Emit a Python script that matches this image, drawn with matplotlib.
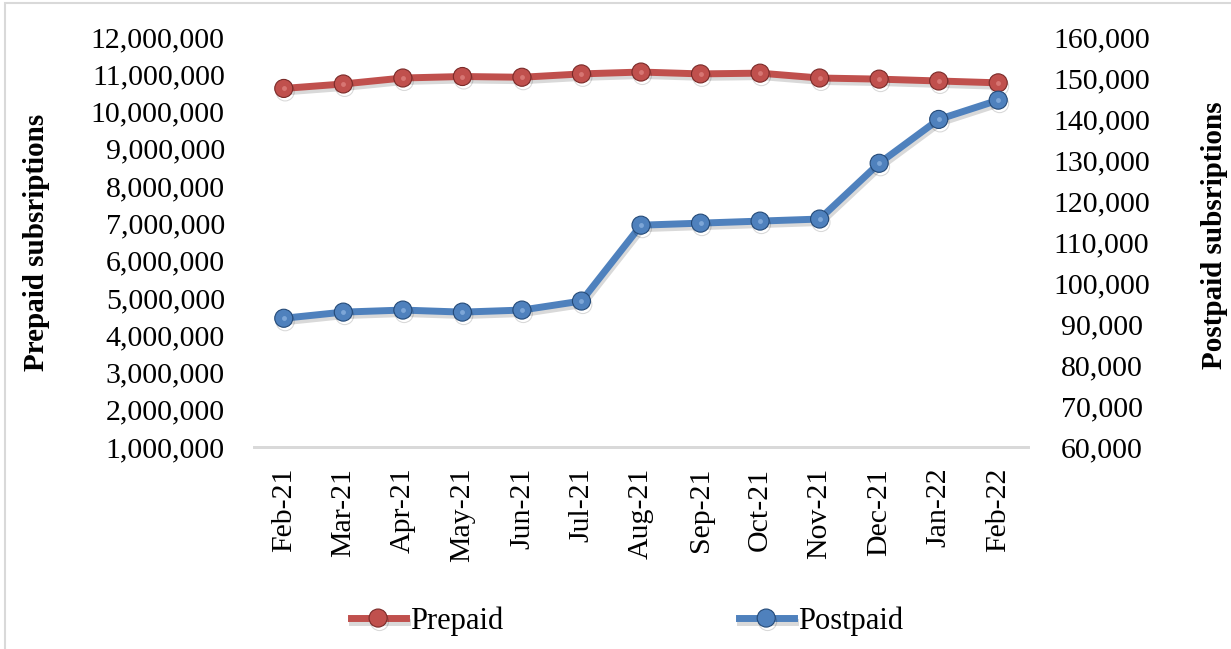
import matplotlib
matplotlib.use("Agg")
import matplotlib.pyplot as plt
import matplotlib.patheffects as pe
from matplotlib.patches import Rectangle
from matplotlib.ticker import FuncFormatter, MultipleLocator

plt.rcParams["font.family"] = ["Liberation Serif", "DejaVu Serif"]

months = ["Feb-21", "Mar-21", "Apr-21", "May-21", "Jun-21", "Jul-21", "Aug-21",
          "Sep-21", "Oct-21", "Nov-21", "Dec-21", "Jan-22", "Feb-22"]
prepaid = [10620000, 10740000, 10900000, 10940000, 10920000, 11010000, 11060000,
           11010000, 11030000, 10900000, 10870000, 10820000, 10770000]
postpaid = [91400, 92900, 93400, 92900, 93400, 95600, 114100,
            114600, 115100, 115600, 129200, 139900, 144600]

red, red_dark, red_hi = "#c0504d", "#7a2a28", "#e8908d"
blue, blue_dark, blue_hi = "#4f81bd", "#244a78", "#9cc0ea"
grid_grey = "#d9d9d9"

W, H = 1231, 649
fig = plt.figure(figsize=(W / 100, H / 100), dpi=100)

# frame round the chart (only top and left edges show)
fig.patches.append(Rectangle((5 / W, -0.2), 1.5, 1.2 - 3 / H, transform=fig.transFigure,
                             fill=False, edgecolor=grid_grey, lw=1.5))

ax = fig.add_axes([254 / W, 1 - 447 / H, (1028 - 254) / W, (447 - 37) / H])
ax2 = ax.twinx()

x = list(range(len(months)))
shadow = [pe.SimpleLineShadow(offset=(1, -2.5), alpha=0.15, shadow_color="black"), pe.Normal()]

l1, = ax.plot(x, prepaid, color=red, lw=5, marker="o", ms=13,
              mfc=red, mec=red_dark, mew=0.8, path_effects=shadow, zorder=3)
ax.plot(x, prepaid, ls="none", marker="o", ms=3.5, mfc=red_hi, mec="none", alpha=0.6, zorder=4)

l2, = ax2.plot(x, postpaid, color=blue, lw=5, marker="o", ms=13,
               mfc=blue, mec=blue_dark, mew=0.8, path_effects=shadow, zorder=3)
ax2.plot(x, postpaid, ls="none", marker="o", ms=3.5, mfc=blue_hi, mec="none", alpha=0.6, zorder=4)

ax.set_xlim(-0.5, len(months) - 0.5)
ax.set_ylim(1000000, 12000000)
ax2.set_ylim(60000, 160000)
ax.yaxis.set_major_locator(MultipleLocator(1000000))
ax2.yaxis.set_major_locator(MultipleLocator(10000))
fmt = FuncFormatter(lambda v, p: f"{int(v):,}")
ax.yaxis.set_major_formatter(fmt)
ax2.yaxis.set_major_formatter(fmt)

ax.set_xticks(x)
ax.set_xticklabels(months, rotation=90, fontsize=21.5)
ax.tick_params(axis="x", length=0, pad=15)
ax.tick_params(axis="y", length=0, pad=21, labelsize=21.5)
ax2.tick_params(axis="y", length=0, pad=53, labelsize=21.5)
for t in ax2.get_yticklabels():
    t.set_horizontalalignment("center")

for a in (ax, ax2):
    for s in ["top", "left", "right"]:
        a.spines[s].set_visible(False)
    a.spines["bottom"].set_color(grid_grey)
    a.spines["bottom"].set_linewidth(2)
    a.patch.set_visible(False)

fig.text(37 / W, 1 - 242 / H, "Prepaid subsriptions", rotation=90, ha="center", va="center",
         fontsize=21, fontweight="bold")
fig.text(1214 / W, 1 - 235 / H, "Postpaid subsriptions", rotation=90, ha="center", va="center",
         fontsize=21, fontweight="bold")

fig.legend([l1, l2], ["Prepaid", "Postpaid"], loc="center", bbox_to_anchor=(627 / W, 1 - 621 / H),
           ncol=2, frameon=False, fontsize=22, handlelength=1.8, handletextpad=0.15,
           columnspacing=7.7)

fig.savefig("out.png", dpi=100)
